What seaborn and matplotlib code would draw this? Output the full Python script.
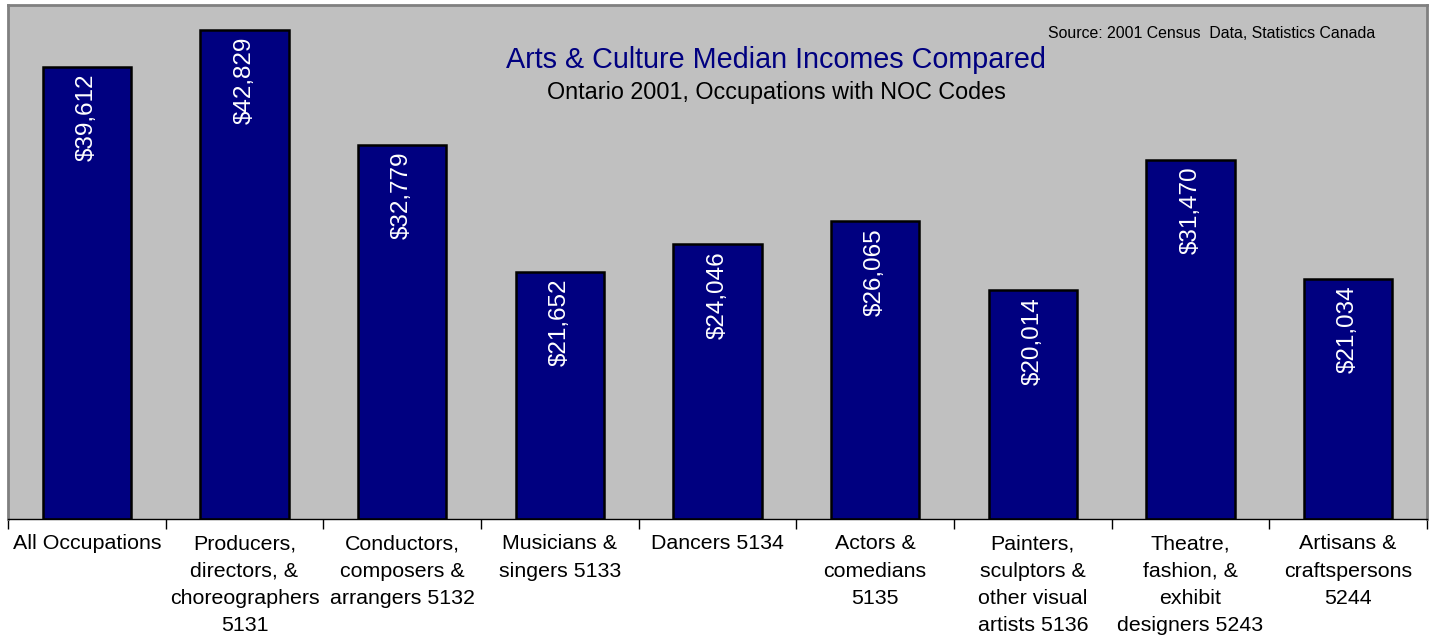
import matplotlib
matplotlib.use("Agg")
import matplotlib.pyplot as plt
import seaborn as sns
import pandas as pd
import numpy as np

# Occupation labels (wrapped as in the original chart)
occupations = [
    "All Occupations",
    "Producers,\ndirectors, &\nchoreographers\n5131",
    "Conductors,\ncomposers &\narrangers 5132",
    "Musicians &\nsingers 5133",
    "Dancers 5134",
    "Actors &\ncomedians\n5135",
    "Painters,\nsculptors &\nother visual\nartists 5136",
    "Theatre,\nfashion, &\nexhibit\ndesigners 5243",
    "Artisans &\ncraftspersons\n5244",
]
median_income = [39612, 42829, 32779, 21652, 24046, 26065, 20014, 31470, 21034]

df = pd.DataFrame({"occupation": occupations, "income": median_income})

sns.set_style("white")
plt.rcParams["font.family"] = ["Liberation Sans", "DejaVu Sans"]

fig = plt.figure(figsize=(14.3, 6.37), dpi=100)
ax = fig.add_axes([8 / 1430, 1 - 519 / 637, 1419 / 1430, 514 / 637])
ax.set_facecolor("#C0C0C0")

sns.barplot(
    data=df, x="occupation", y="income", ax=ax,
    color="#000080", saturation=1, width=0.56,
    edgecolor="black", linewidth=1.8,
)

ax.set_ylim(0, 45000)
ax.set_xlim(-0.5, len(occupations) - 0.5)
ax.set_xlabel("")
ax.set_ylabel("")
ax.set_yticks([])

# value labels inside the bars
for i, v in enumerate(median_income):
    ax.annotate(f"${v:,}", xy=(i, v), xytext=(0, -5), textcoords="offset points",
                rotation=90, ha="center", va="top", color="white", fontsize=17.5)

# category labels, tick marks at category boundaries
ax.set_xticks(range(len(occupations)))
ax.set_xticklabels(occupations, fontsize=15.4, multialignment="center",
                   va="top", linespacing=1.56, color="black")
ax.tick_params(axis="x", which="major", length=0, pad=11)
ax.set_xticks(np.arange(-0.5, len(occupations)), minor=True)
ax.tick_params(axis="x", which="minor", bottom=True, length=7, width=1,
               color="black", direction="out")

for side in ["top", "left", "right"]:
    ax.spines[side].set_color("#808080")
    ax.spines[side].set_linewidth(2)
ax.spines["bottom"].set_color("black")
ax.spines["bottom"].set_linewidth(1)

fig.text(776 / 1430, 1 - 60 / 637, "Arts & Culture Median Incomes Compared",
         ha="center", va="center", color="#000080", fontsize=20.7)
fig.text(776 / 1430, 1 - 92 / 637, "Ontario 2001, Occupations with NOC Codes",
         ha="center", va="center", color="black", fontsize=16.8)
fig.text(1375 / 1430, 1 - 33 / 637, "Source: 2001 Census  Data, Statistics Canada",
         ha="right", va="center", color="black", fontsize=11.4)

fig.savefig("out.png", dpi=100, facecolor="white")
